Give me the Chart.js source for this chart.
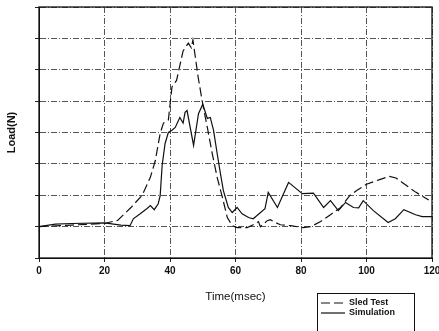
<!DOCTYPE html>
<html>
<head>
<meta charset="utf-8">
<script src="https://cdn.jsdelivr.net/npm/chart.js@4.4.1/dist/chart.umd.min.js"></script>
<style>
  html, body { margin: 0; padding: 0; background: #fff; }
  #wrap { width: 439px; height: 331px; position: relative; }
</style>
</head>
<body>
<div id="wrap"><canvas id="loadChart" width="439" height="331"></canvas></div>
<script>
// time (msec) and load (grid units, no scale shown)
const sledTime = [0, 10, 20, 24, 28, 31.5, 34, 35.5, 37, 38, 39.5, 40.6, 42, 44, 45.6, 46.5, 47, 48.6, 50, 51.4, 52.9, 54.4, 56, 57.5, 59, 60.5, 63.6, 65.4, 67, 67.6, 69.7, 70.6, 72.2, 73.7, 76.8, 80.7, 83, 86, 89, 92, 95, 97, 100, 104, 107, 109, 111, 115, 119];
const sledLoad = [0, 0.05, 0.1, 0.2, 0.6, 1.0, 1.57, 2.1, 2.97, 3.3, 3.4, 4.45, 4.66, 5.6, 5.85, 5.7, 5.95, 4.76, 3.9, 3.16, 2.33, 1.57, 0.93, 0.29, 0.03, -0.03, -0.03, 0.06, 0.16, 0, 0.19, 0.22, 0.13, 0.06, 0.03, -0.03, 0, 0.16, 0.38, 0.6, 1.0, 1.15, 1.35, 1.5, 1.6, 1.55, 1.4, 1.1, 0.85];

const simTime = [0, 5, 10, 20, 25, 27.8, 28.8, 30.9, 33, 34, 35.2, 36.4, 37, 37.6, 38.5, 39.5, 40.6, 41.6, 43, 44, 44.6, 45.2, 47.2, 48.7, 50, 51.4, 52.3, 53.3, 54.4, 55.4, 56.3, 57.8, 59, 60.5, 62, 64, 65.4, 69, 70, 72.8, 76.2, 80.4, 83.8, 86.9, 89, 91.4, 93.6, 96, 97.6, 99, 102.1, 106.6, 108.8, 111.4, 115, 117, 120];
const simLoad = [0, 0.08, 0.1, 0.12, 0.05, 0.03, 0.25, 0.41, 0.58, 0.67, 0.54, 0.73, 0.99, 1.95, 2.65, 3.0, 3.07, 3.16, 3.48, 3.3, 3.64, 3.7, 2.59, 3.6, 3.9, 3.45, 3.48, 3.07, 2.33, 1.69, 1.15, 0.61, 0.45, 0.61, 0.41, 0.29, 0.25, 0.57, 1.09, 0.61, 1.41, 1.05, 1.07, 0.61, 0.83, 0.51, 0.77, 0.61, 0.6, 0.83, 0.51, 0.13, 0.25, 0.54, 0.38, 0.32, 0.32];

const xTicks = [0, 20, 40, 60, 80, 100, 120];

function toPoints(xs, ys) {
    return xs.map((x, i) => ({ x: x, y: ys[i] }));
}

const gridStyle = {
    color: '#555',
    lineWidth: 1,
    drawTicks: true,
    tickLength: 4,
    tickColor: '#222'
};

// solid frame round the plot and a boxed legend under it
const framePlugin = {
    id: 'frame',
    afterDraw(chart) {
        const ctx = chart.ctx;
        const a = chart.chartArea;
        ctx.save();
        ctx.strokeStyle = '#111';
        ctx.lineWidth = 1.3;
        ctx.setLineDash([]);
        ctx.strokeRect(a.left, a.top, a.right - a.left, a.bottom - a.top);

        const bx = 317, by = 293, bw = 97, bh = 40;
        ctx.lineWidth = 1;
        ctx.strokeRect(bx + 0.5, by + 0.5, bw, bh);
        ctx.font = 'bold 9px "Liberation Sans", Arial, sans-serif';
        ctx.textBaseline = 'middle';
        ctx.fillStyle = '#111';
        chart.data.datasets.forEach((ds, i) => {
            const y = by + 10 + i * 10;
            ctx.beginPath();
            ctx.setLineDash(ds.borderDash || []);
            ctx.lineWidth = 1.2;
            ctx.moveTo(bx + 4, y);
            ctx.lineTo(bx + 28, y);
            ctx.stroke();
            ctx.setLineDash([]);
            ctx.fillText(ds.label, bx + 32, y);
        });
        ctx.restore();
    }
};

const ctx = document.getElementById('loadChart').getContext('2d');
new Chart(ctx, {
    type: 'line',
    data: {
        datasets: [{
            label: 'Sled Test',
            data: toPoints(sledTime, sledLoad),
            borderColor: '#111',
            borderWidth: 1.2,
            borderDash: [9, 4],
            pointRadius: 0,
            tension: 0,
            fill: false
        }, {
            label: 'Simulation',
            data: toPoints(simTime, simLoad),
            borderColor: '#111',
            borderWidth: 1.2,
            pointRadius: 0,
            tension: 0,
            fill: false
        }]
    },
    options: {
        responsive: false,
        animation: false,
        layout: { padding: { top: 7, right: 7, left: 0, bottom: 0 } },
        plugins: {
            legend: { display: false },
            tooltip: { enabled: false }
        },
        scales: {
            x: {
                type: 'linear',
                min: 0,
                max: 120,
                afterBuildTicks: scale => { scale.ticks = xTicks.map(v => ({ value: v })); },
                afterFit: scale => { scale.height = 73; scale.paddingLeft = 0; scale.paddingRight = 0; },
                grid: gridStyle,
                border: { display: true, color: '#111', width: 1, dash: [6, 2, 1, 2] },
                ticks: {
                    padding: 3,
                    color: '#111',
                    maxRotation: 0,
                    font: { family: '"Liberation Sans", Arial, sans-serif', size: 10, weight: 'bold' }
                },
                title: {
                    display: true,
                    text: 'Time(msec)',
                    color: '#111',
                    padding: { top: 0, bottom: 27 },
                    font: { family: '"Liberation Sans", Arial, sans-serif', size: 11.5 }
                }
            },
            y: {
                min: -1,
                max: 7,
                afterFit: scale => { scale.width = 39; },
                grid: gridStyle,
                border: { display: true, color: '#111', width: 1, dash: [6, 2, 1, 2] },
                ticks: { stepSize: 1, display: false },
                title: {
                    display: true,
                    text: 'Load(N)',
                    color: '#111',
                    padding: { top: 5, bottom: 0 },
                    font: { family: '"Liberation Sans", Arial, sans-serif', size: 11, weight: 'bold' }
                }
            }
        }
    },
    plugins: [framePlugin]
});
</script>
</body>
</html>
